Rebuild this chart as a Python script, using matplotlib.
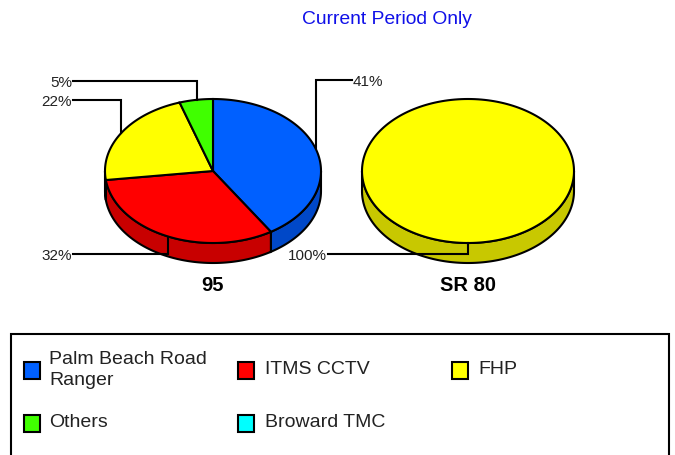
import numpy as np
import matplotlib
matplotlib.use("Agg")
import matplotlib.pyplot as plt
from matplotlib.patches import Rectangle

plt.rcParams['font.family'] = ['Liberation Sans', 'DejaVu Sans']

title = "Current Period Only"
pie_names = ["95", "SR 80"]
values_95 = [41, 32, 22, 5]
colors_95 = ["#0060ff", "#ff0000", "#ffff00", "#40ff00"]
dark_95 = ["#0048c8", "#c80000", "#c8c800", "#30c800"]
labels_95 = ["41%", "32%", "22%", "5%"]
values_sr80 = [100]
colors_sr80 = ["#ffff00"]
dark_sr80 = ["#c8c800"]
labels_sr80 = ["100%"]
legend_names = ["Palm Beach Road\nRanger", "ITMS CCTV", "FHP", "Others", "Broward TMC"]
legend_colors = ["#0060ff", "#ff0000", "#ffff00", "#40ff00", "#00ffff"]

DEPTH = 20
LW = 1.5


def rim(cx, cy, rx, ry, t0, t1):
    t = np.radians(np.linspace(t0, t1, 200))
    return cx + rx * np.cos(t), cy + ry * np.sin(t)


def draw_pie(ax, cx, cy, rx, ry, values, colors, dark):
    # screen y points down, so growing angle runs clockwise from the top
    edges = -90 + np.cumsum([0] + list(values)) * 3.6

    # side wall, only the front half (0..180) can be seen
    for a0, a1, c in zip(edges[:-1], edges[1:], dark):
        for lo, hi in [(a0, a1), (a0 - 360, a1 - 360)]:
            s0, s1 = max(lo, 0), min(hi, 180)
            if s1 <= s0:
                continue
            x, y = rim(cx, cy, rx, ry, s0, s1)
            ax.fill(np.r_[x, x[::-1]], np.r_[y, y[::-1] + DEPTH], fc=c, ec="black", lw=LW, zorder=2)

    # top face
    for a0, a1, c in zip(edges[:-1], edges[1:], colors):
        x, y = rim(cx, cy, rx, ry, a0, a1)
        if len(values) > 1:
            x, y = np.r_[cx, x], np.r_[cy, y]
        ax.fill(x, y, fc=c, ec="black", lw=LW, zorder=3)


def leader(ax, xs, ys, text, ha):
    ax.plot(xs, ys, color="black", lw=LW, zorder=4, solid_joinstyle="miter")
    tx = xs[0] - 1 if ha == "right" else xs[0] + 1
    ax.text(tx, ys[0] + 1, text, ha=ha, va="center", fontsize=11, color="#222222")


fig = plt.figure(figsize=(6.75, 4.56), dpi=100)
ax = fig.add_axes([0, 0, 1, 1])
ax.set_xlim(0, 675)
ax.set_ylim(455, -1)
ax.axis("off")

ax.text(387, 18, title, color="#1010e8", fontsize=13.9, ha="center", va="center")

draw_pie(ax, 213, 171, 108, 72, values_95, colors_95, dark_95)
draw_pie(ax, 468, 171, 106, 72, values_sr80, colors_sr80, dark_sr80)

leader(ax, [352, 316, 316], [80, 80, 148], labels_95[0], "left")
leader(ax, [73, 168, 168], [254, 254, 237], labels_95[1], "right")
leader(ax, [73, 121, 121], [100, 100, 133], labels_95[2], "right")
leader(ax, [73, 197, 197], [81, 81, 100], labels_95[3], "right")
leader(ax, [328, 468, 468], [254, 254, 243], labels_sr80[0], "right")

ax.text(213, 285, pie_names[0], fontsize=14.5, fontweight="bold", ha="center", va="center")
ax.text(468, 285, pie_names[1], fontsize=14.5, fontweight="bold", ha="center", va="center")

# legend box runs off the bottom of the picture
ax.add_patch(Rectangle((11, 334), 658, 130, fc="white", ec="black", lw=LW, zorder=1))
swatch_x = [24, 238, 452, 24, 238]
swatch_y = [362, 362, 362, 415, 415]
text_x = [49, 265, 478, 49, 265]
text_y = [369, 369, 369, 422, 422]
for sx, sy, tx, ty, name, c in zip(swatch_x, swatch_y, text_x, text_y, legend_names, legend_colors):
    ax.add_patch(Rectangle((sx, sy), 16, 17, fc=c, ec="black", lw=LW, zorder=2))
    ax.text(tx, ty, name, fontsize=14, color="#222222", ha="left", va="center", linespacing=1.35)

fig.savefig("out.png", dpi=100)
